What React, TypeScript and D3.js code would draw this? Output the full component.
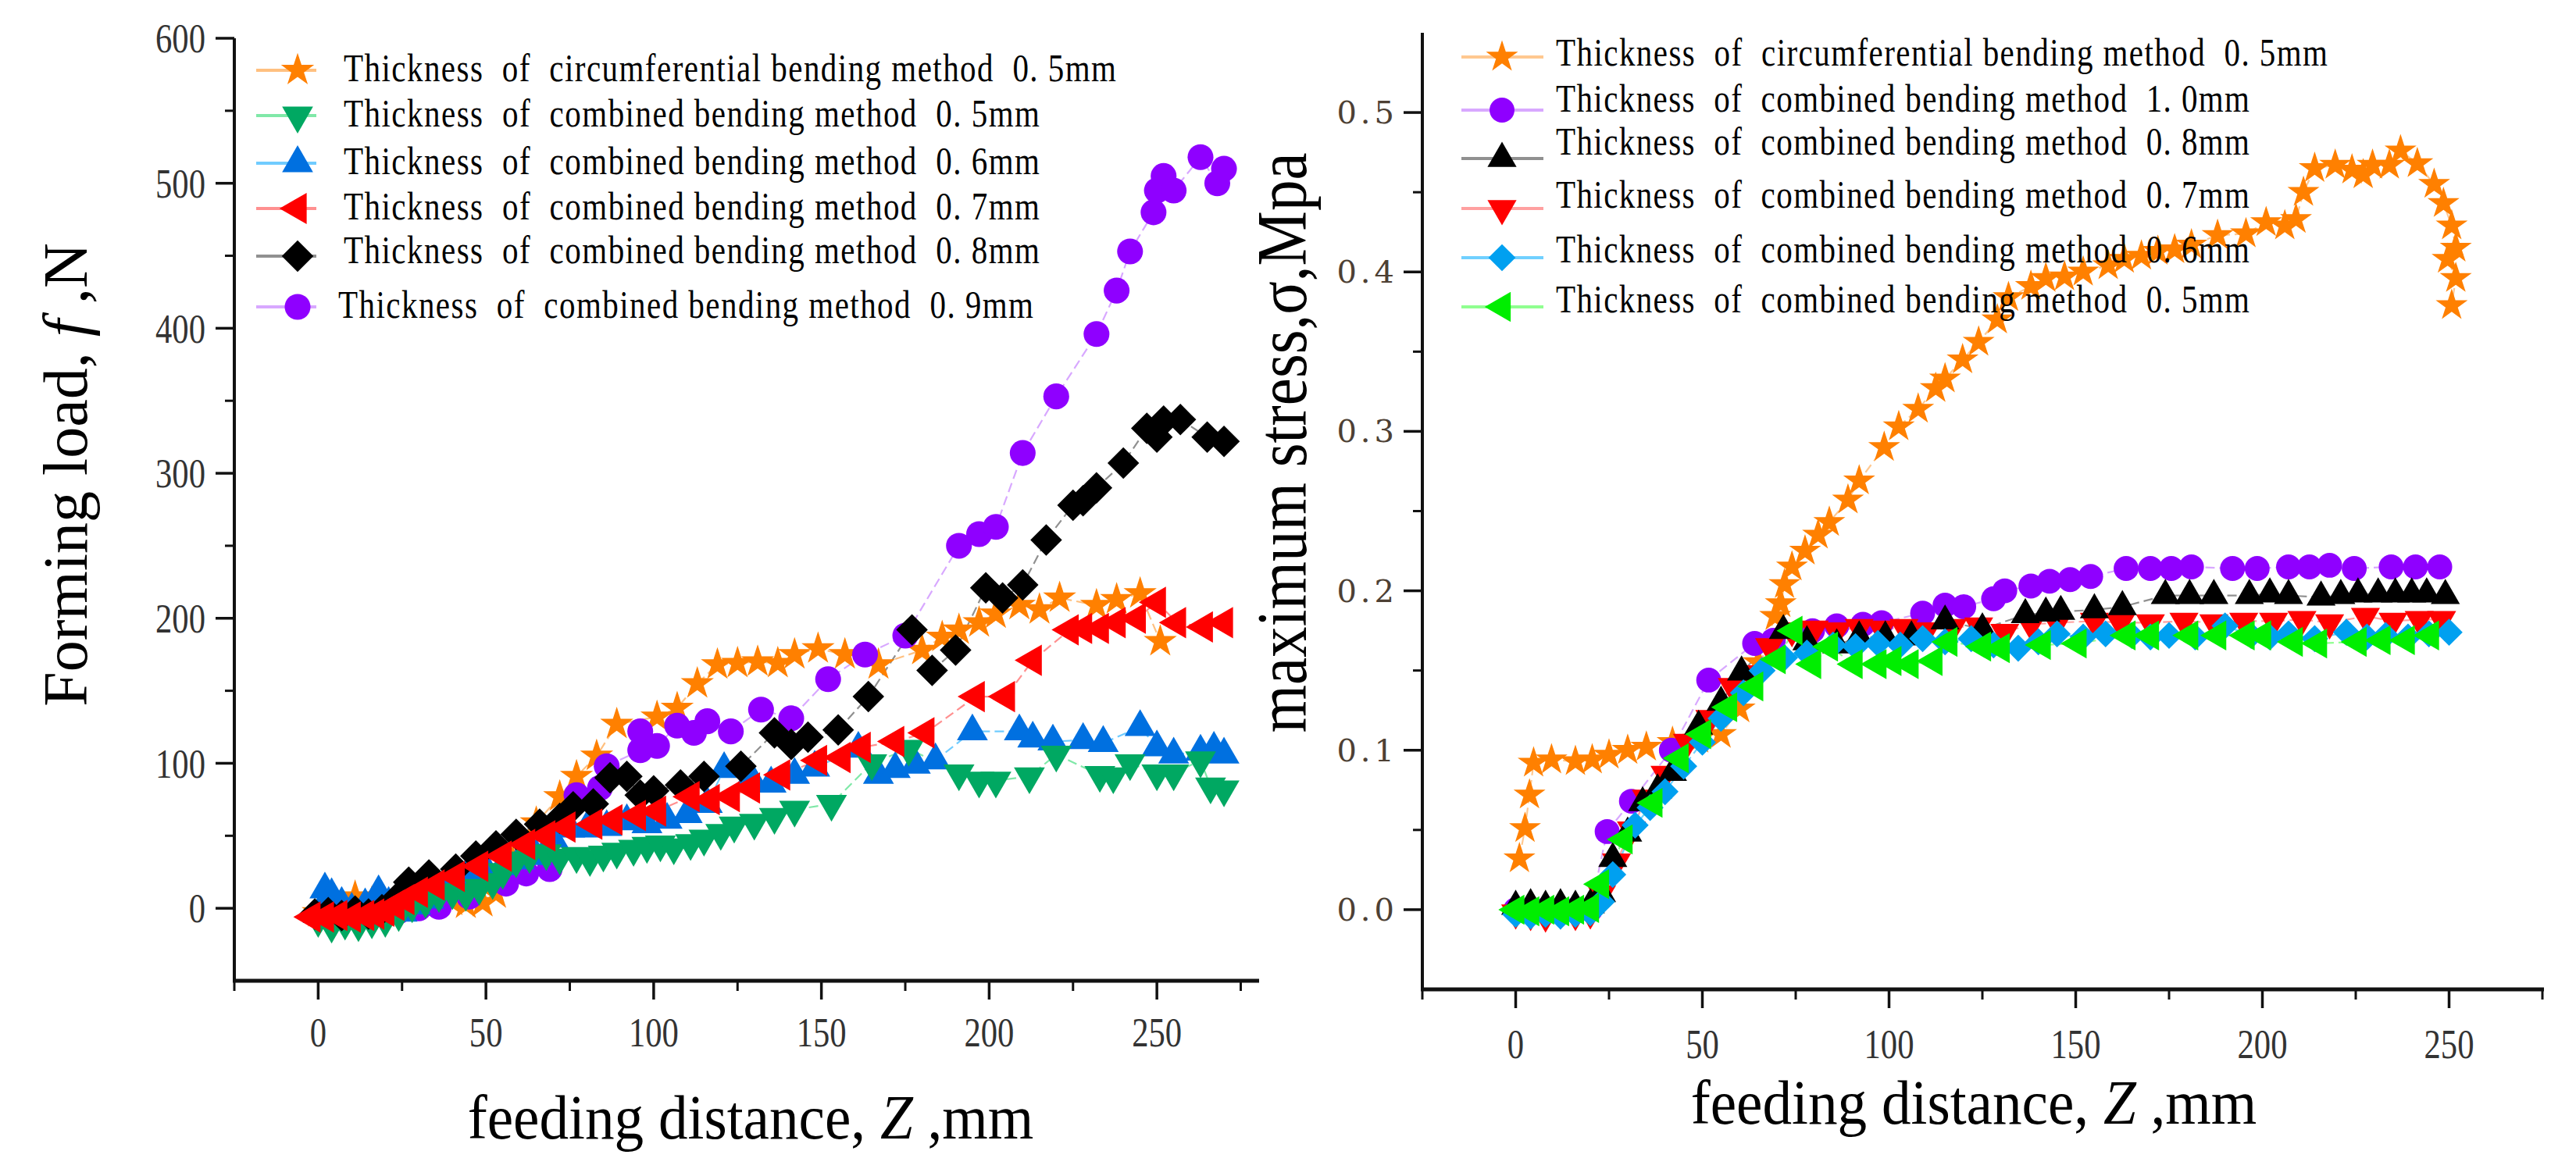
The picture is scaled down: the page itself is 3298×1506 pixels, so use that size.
import React from 'react'
import * as d3 from 'd3'

type Pt = [number, number]

// ---- left panel: forming load (N) vs feeding distance (mm)
const loadCirc05: Pt[] = [[0,-3],[5,2],[11,8],[16,4],[20,3],[24,8],[30,6],[35,4],[40,5],[44,3],[49,4],[53,10],[58,32],[65,59],[72,77],[77,91],[83,105],[89,127],[101,132],[107,138],[113,155],[119,168],[125,169],[131,170],[137,169],[142,175],[149,179],[157,175],[167,168],[180,178],[186,187],[191,192],[197,197],[202,203],[209,209],[215,206],[221,214],[232,209],[238,213],[245,217],[251,184]]
const loadComb09: Pt[] = [[0,-5],[8,-6],[16,-4],[24,-2],[30,0],[36,1],[45,8],[56,17],[62,24],[69,27],[77,78],[84,83],[86,98],[96,109],[96,122],[101,112],[107,126],[112,121],[116,129],[123,122],[132,137],[141,131],[152,158],[163,175],[175,188],[191,250],[197,258],[202,263],[210,314],[220,353],[232,396],[238,426],[242,453],[249,480],[250,495],[252,505],[255,495],[263,518],[268,500],[270,510]]
const loadComb06: Pt[] = [[0,-4],[2,13],[4,9],[7,3],[10,-1],[14,2],[18,11],[21,3],[25,-3],[29,2],[33,6],[37,14],[41,22],[45,26],[50,27],[55,29],[60,33],[65,36],[70,48],[75,55],[80,55],[86,56],[92,60],[98,58],[104,61],[110,65],[116,72],[121,96],[129,90],[135,86],[142,92],[148,97],[161,110],[167,92],[172,96],[178,99],[184,102],[195,122],[209,122],[213,117],[219,115],[228,116],[234,114],[245,125],[250,111],[255,106],[263,108],[267,110],[270,106]]
const loadComb05: Pt[] = [[0,-8],[4,-12],[8,-10],[12,-11],[16,-9],[20,-8],[24,-4],[28,2],[32,5],[36,9],[40,11],[44,10],[48,14],[52,18],[55,25],[59,33],[63,36],[68,38],[72,35],[77,36],[81,34],[85,37],[89,39],[94,41],[98,43],[102,44],[106,42],[111,45],[115,48],[120,52],[124,57],[130,59],[136,63],[142,68],[153,72],[165,100],[176,110],[191,93],[197,88],[202,88],[212,91],[220,106],[233,92],[237,91],[242,100],[250,93],[255,93],[263,102],[266,84],[270,82]]
const loadComb08: Pt[] = [[-1,-4],[3,-3],[7,-5],[11,-2],[15,-4],[19,-1],[23,6],[27,18],[33,23],[41,27],[47,36],[53,43],[59,51],[66,58],[72,62],[76,70],[82,72],[87,90],[92,91],[96,78],[100,81],[108,85],[115,91],[126,98],[136,121],[141,113],[146,118],[155,123],[164,146],[177,192],[183,164],[190,178],[199,221],[204,214],[210,223],[217,254],[225,278],[228,281],[232,290],[240,307],[247,331],[250,325],[252,336],[257,337],[265,325],[270,322]]
const loadComb07: Pt[] = [[-2,-6],[2,-6],[6,-5],[10,-6],[14,-5],[17,-4],[20,-2],[23,2],[26,6],[30,11],[35,16],[41,22],[48,29],[55,36],[62,44],[68,50],[74,56],[82,58],[88,61],[95,64],[101,67],[111,77],[117,75],[123,77],[129,83],[138,92],[149,102],[156,104],[162,111],[172,115],[181,121],[196,146],[205,146],[213,171],[224,192],[228,193],[233,193],[238,197],[244,200],[250,211],[256,197],[264,194],[270,197]]

// ---- right panel: maximum stress (MPa) vs feeding distance (mm)
const stressCirc05: Pt[] = [[1,0.032],[2.5,0.051],[3.7,0.072],[4.8,0.092],[9.6,0.094],[16,0.093],[20.5,0.094],[25,0.097],[30,0.1],[35,0.102],[42,0.105],[49,0.107],[55,0.11],[60,0.126],[65,0.155],[69.5,0.184],[71,0.192],[72,0.204],[74,0.215],[77.5,0.225],[81,0.235],[84,0.243],[89,0.257],[92,0.269],[98.7,0.29],[102.6,0.303],[107.8,0.314],[112.5,0.327],[115,0.333],[119.7,0.345],[124,0.356],[129,0.37],[132,0.384],[138,0.391],[142,0.396],[147,0.397],[152,0.4],[158.7,0.404],[163,0.408],[167.6,0.41],[172,0.413],[176.5,0.414],[181,0.417],[188,0.423],[195.6,0.424],[201,0.431],[206,0.429],[209,0.433],[211,0.45],[214,0.465],[219.5,0.467],[224,0.464],[227,0.461],[229.5,0.467],[234,0.467],[237,0.476],[241.5,0.468],[246,0.455],[248.5,0.443],[250.7,0.429],[251.8,0.415],[249.6,0.408],[251.8,0.396],[250.7,0.379]]
const stressComb10: Pt[] = [[0,0],[4,0],[8,0],[12,0],[16,0],[20,0],[24.5,0.049],[31,0.068],[41.7,0.1],[51.7,0.144],[64,0.167],[69,0.169],[79.5,0.175],[86,0.178],[93,0.179],[98,0.18],[109,0.186],[115,0.191],[120,0.19],[128,0.195],[131,0.2],[138,0.203],[143,0.206],[148.5,0.207],[154,0.209],[163.5,0.214],[170,0.214],[175.6,0.214],[181,0.215],[192,0.214],[198.6,0.214],[207,0.215],[212.6,0.215],[218,0.216],[224.6,0.214],[234.5,0.215],[241,0.215],[247.5,0.215]]
const stressComb07: Pt[] = [[0,-0.002],[4,-0.003],[8,-0.004],[12,-0.002],[16,-0.003],[20,-0.002],[23,0.01],[27,0.03],[31,0.05],[35,0.07],[40,0.085],[46,0.105],[52,0.12],[58,0.14],[63,0.148],[68,0.165],[74,0.175],[80,0.176],[86,0.175],[92,0.177],[98,0.176],[104,0.177],[110,0.175],[117,0.177],[124,0.178],[131,0.174],[138,0.179],[145,0.18],[155,0.181],[162,0.18],[170,0.18],[179,0.181],[187,0.18],[195,0.181],[203,0.181],[210.6,0.182],[218,0.18],[227.6,0.184],[235,0.181],[242,0.182],[248,0.182]]
const stressComb08: Pt[] = [[0,0.002],[4,0.003],[8,0.002],[12,0.003],[16,0.002],[20,0.003],[23,0.01],[26,0.032],[30,0.048],[34,0.067],[38,0.075],[42,0.086],[49,0.115],[55,0.13],[60.5,0.149],[71.7,0.175],[78,0.168],[86,0.166],[92,0.171],[99,0.171],[106,0.171],[115,0.181],[125,0.176],[136.5,0.185],[142,0.186],[146,0.187],[155,0.188],[162.5,0.19],[174,0.197],[180.5,0.197],[187,0.197],[196.5,0.197],[202,0.198],[207,0.197],[215.7,0.196],[221,0.197],[225.6,0.198],[231,0.198],[235.6,0.198],[240,0.198],[244,0.198],[249,0.197]]
const stressComb06: Pt[] = [[0,-0.003],[4,-0.004],[8,-0.003],[12,-0.004],[16,-0.003],[20,-0.002],[23,0.005],[26,0.022],[32,0.053],[36,0.064],[40,0.074],[45,0.09],[50,0.105],[55,0.12],[61,0.136],[66,0.15],[72,0.158],[78,0.161],[85,0.166],[91,0.165],[97,0.167],[103,0.166],[109,0.17],[115,0.168],[122,0.17],[128,0.166],[134.6,0.164],[140,0.168],[145,0.173],[152,0.171],[158,0.173],[165,0.172],[170,0.171],[175,0.172],[182,0.171],[190,0.178],[197,0.172],[202,0.171],[207,0.173],[214,0.17],[222.5,0.174],[228,0.171],[233,0.172],[239,0.171],[244.6,0.173],[250,0.174]]
const stressComb05: Pt[] = [[0,0],[4,-0.001],[8,0],[12,-0.001],[16,0],[20,0.001],[22.7,0.016],[29,0.044],[37,0.067],[44,0.095],[50,0.11],[57,0.127],[64,0.14],[70,0.157],[74.5,0.175],[79.5,0.154],[84,0.165],[90.6,0.154],[97,0.154],[101,0.156],[105.6,0.154],[112,0.156],[116,0.168],[125,0.165],[130,0.164],[141,0.166],[150.6,0.167],[163.7,0.172],[170,0.172],[180.5,0.172],[188,0.172],[195.6,0.172],[200,0.172],[208.5,0.168],[215,0.167],[225.6,0.168],[232,0.169],[238.5,0.169],[245,0.172]]

const loadTicks = [0, 100, 200, 300, 400, 500, 600]
const loadMinorTicks = [50, 150, 250, 350, 450, 550]
const stressTicks = [0, 0.1, 0.2, 0.3, 0.4, 0.5]
const stressMinorTicks = [0.05, 0.15, 0.25, 0.35, 0.45]
const distTicks = [0, 50, 100, 150, 200, 250]
const distMinorTicks = [-25, 25, 75, 125, 175, 225, 275]

const loadLegend = [
  'Thickness  of  circumferential bending method  0. 5mm',
  'Thickness  of  combined bending method  0. 5mm',
  'Thickness  of  combined bending method  0. 6mm',
  'Thickness  of  combined bending method  0. 7mm',
  'Thickness  of  combined bending method  0. 8mm',
  'Thickness  of  combined bending method  0. 9mm',
]
const stressLegend = [
  'Thickness  of  circumferential bending method  0. 5mm',
  'Thickness  of  combined bending method  1. 0mm',
  'Thickness  of  combined bending method  0. 8mm',
  'Thickness  of  combined bending method  0. 7mm',
  'Thickness  of  combined bending method  0. 6mm',
  'Thickness  of  combined bending method  0. 5mm',
]

type Shape = 'star' | 'circle' | 'up' | 'down' | 'left' | 'diamond'

interface Series {
  data: Pt[]
  shape: Shape
  fill: string
  line: string
  size: number
}

const SERIF = "'Liberation Serif', 'Times New Roman', serif"
const NARROW = 0.82 // horizontal squeeze used for the condensed serif labels

function symbolPath(shape: Shape, size: number): string {
  const type =
    shape === 'star' ? d3.symbolStar :
    shape === 'circle' ? d3.symbolCircle :
    shape === 'diamond' ? d3.symbolSquare : d3.symbolTriangle
  return d3.symbol().type(type).size(size)() || ''
}

function rotation(shape: Shape) {
  if (shape === 'down') return 180
  if (shape === 'left') return -90
  if (shape === 'diamond') return 45
  return 0
}

const Marker: React.FC<{ x: number; y: number; s: Series }> = ({ x, y, s }) => (
  <path
    d={symbolPath(s.shape, s.size)}
    transform={`translate(${x},${y}) rotate(${rotation(s.shape)})`}
    fill={s.fill}
  />
)

interface PanelProps {
  x: d3.ScaleLinear<number, number>
  y: d3.ScaleLinear<number, number>
  series: Series[] // drawing order
  yTicks: number[]
  yMinor: number[]
  yFormat: (v: number) => string
  yTickStyle: React.SVGProps<SVGTextElement>
  yTickSqueeze: number
  yLabelX: number
  tickLabelBaseline: number
  xLabel: { cx: number; y: number }
  yLabel: { text: React.ReactNode; x: number; cy: number; len?: number; size: number }
  legend: { series: Series[]; labels: string[]; markerY: number[]; textY: number[]; lineX: [number, number]; markerX: number; textX: number[]; textLen: number[] }
}

const Panel: React.FC<PanelProps> = (p) => {
  const [x0, x1] = p.x.range()
  const [yb, yt] = p.y.range()
  const line = d3.line<Pt>().x(d => p.x(d[0])).y(d => p.y(d[1]))
  return (
    <g>
      {/* connecting lines then markers */}
      {p.series.map((s, i) => (
        <path key={'l' + i} d={line(s.data) || ''} fill="none" stroke={s.line} strokeWidth={2.2} strokeDasharray="12 6" />
      ))}
      {p.series.map((s, i) => (
        <g key={'m' + i}>
          {s.data.map((d, j) => <Marker key={j} x={p.x(d[0])} y={p.y(d[1])} s={s} />)}
        </g>
      ))}

      {/* axes */}
      <line x1={x0} x2={x0} y1={yt} y2={yb + 2} stroke="#111" strokeWidth={4} />
      <line x1={x0 - 2} x2={x1 + 2} y1={yb} y2={yb} stroke="#111" strokeWidth={5} />
      {p.yTicks.map(t => (
        <g key={'yt' + t}>
          <line x1={x0 - 24} x2={x0} y1={p.y(t)} y2={p.y(t)} stroke="#111" strokeWidth={3.5} />
          <g transform={`translate(${p.yLabelX},${p.y(t)}) scale(${p.yTickSqueeze},1)`}>
            <text x={0} y={0} dy="0.35em" textAnchor="end" {...p.yTickStyle}>{p.yFormat(t)}</text>
          </g>
        </g>
      ))}
      {p.yMinor.map(t => (
        <line key={'ym' + t} x1={x0 - 12} x2={x0} y1={p.y(t)} y2={p.y(t)} stroke="#111" strokeWidth={3} />
      ))}
      {distTicks.map(t => (
        <g key={'xt' + t}>
          <line x1={p.x(t)} x2={p.x(t)} y1={yb} y2={yb + 24} stroke="#111" strokeWidth={3.5} />
          <g transform={`translate(${p.x(t)},${p.tickLabelBaseline}) scale(${NARROW},1)`}>
            <text x={0} y={0} textAnchor="middle" fontFamily={SERIF} fontSize={52} fill="#333">{t}</text>
          </g>
        </g>
      ))}
      {distMinorTicks.filter(t => p.x(t) >= x0 - 1 && p.x(t) <= x1 + 1).map(t => (
        <line key={'xm' + t} x1={p.x(t)} x2={p.x(t)} y1={yb} y2={yb + 13} stroke="#111" strokeWidth={3} />
      ))}

      {/* axis titles */}
      <g transform={`translate(${p.xLabel.cx},${p.xLabel.y}) scale(0.94,1)`}>
        <text x={0} y={0} textAnchor="middle" fontFamily={SERIF} fontSize={80} fill="#000">
          feeding distance, <tspan fontStyle="italic">Z</tspan> ,mm
        </text>
      </g>
      <text transform={`translate(${p.yLabel.x},${p.yLabel.cy}) rotate(-90)`} textAnchor="middle" fontFamily={SERIF}
        fontSize={p.yLabel.size} textLength={p.yLabel.len} lengthAdjust={p.yLabel.len ? 'spacingAndGlyphs' : undefined} fill="#000">
        {p.yLabel.text}
      </text>

      {/* legend */}
      {p.legend.series.map((s, i) => (
        <g key={'lg' + i}>
          <line x1={p.legend.lineX[0]} x2={p.legend.lineX[1]} y1={p.legend.markerY[i]} y2={p.legend.markerY[i]} stroke={s.line} strokeWidth={4} />
          <Marker x={p.legend.markerX} y={p.legend.markerY[i]} s={s} />
          <g transform={`translate(${p.legend.textX[i]},${p.legend.textY[i]}) scale(${NARROW},1)`}>
            <text x={0} y={0} fontFamily={SERIF} fontSize={50} fill="#000"
              textLength={p.legend.textLen[i] / NARROW} lengthAdjust="spacing" style={{ whiteSpace: 'pre' }}>
              {p.legend.labels[i]}
            </text>
          </g>
        </g>
      ))}
    </g>
  )
}

export default function App() {
  // left panel scales
  const xL = d3.scaleLinear().domain([-25, 280]).range([300, 1610])
  const yL = d3.scaleLinear().domain([-50, 600]).range([1256, 49])
  // right panel scales
  const xR = d3.scaleLinear().domain([-25, 275]).range([1821, 3255])
  const yR = d3.scaleLinear().domain([-0.05, 0.55]).range([1267, 42])

  const lCirc: Series = { data: loadCirc05, shape: 'star', fill: '#FF8000', line: '#FFC080', size: 560 }
  const l05: Series = { data: loadComb05, shape: 'down', fill: '#00A862', line: '#80E8A8', size: 680 }
  const l06: Series = { data: loadComb06, shape: 'up', fill: '#0070E0', line: '#70CCFF', size: 680 }
  const l07: Series = { data: loadComb07, shape: 'left', fill: '#FF0000', line: '#FF9090', size: 700 }
  const l08: Series = { data: loadComb08, shape: 'diamond', fill: '#000000', line: '#909090', size: 820 }
  const l09: Series = { data: loadComb09, shape: 'circle', fill: '#8F00FF', line: '#D8A8FF', size: 860 }

  const rCirc: Series = { data: stressCirc05, shape: 'star', fill: '#FF8000', line: '#FFC890', size: 520 }
  const r10: Series = { data: stressComb10, shape: 'circle', fill: '#8F00FF', line: '#D8A8FF', size: 800 }
  const r08: Series = { data: stressComb08, shape: 'up', fill: '#000000', line: '#909090', size: 600 }
  const r07: Series = { data: stressComb07, shape: 'down', fill: '#FF0000', line: '#FFA0A0', size: 600 }
  const r06: Series = { data: stressComb06, shape: 'diamond', fill: '#00A0F0', line: '#70D0FF', size: 600 }
  const r05: Series = { data: stressComb05, shape: 'left', fill: '#00EE00', line: '#90FF90', size: 640 }

  return (
    <svg width={3298} height={1506} style={{ position: 'absolute', left: 0, top: 0, background: '#fff' }}>
      <rect width={3298} height={1506} fill="#fff" />
      <Panel
        x={xL}
        y={yL}
        series={[lCirc, l09, l06, l05, l08, l07]}
        yTicks={loadTicks}
        yMinor={loadMinorTicks}
        yFormat={v => String(v)}
        yTickStyle={{ fontFamily: SERIF, fontSize: 52, fill: '#333' }}
        yTickSqueeze={NARROW}
        yLabelX={263}
        tickLabelBaseline={1340}
        xLabel={{ cx: 961, y: 1458 }}
        yLabel={{ text: <>Forming load, <tspan fontStyle="italic">f</tspan> ,N</>, x: 111, cy: 608, size: 80 }}
        legend={{
          series: [lCirc, l05, l06, l07, l08, l09],
          labels: loadLegend,
          markerY: [90, 148, 209, 267, 328, 393],
          textY: [104, 162, 223, 281, 337, 407],
          lineX: [328, 405],
          markerX: 381,
          textX: [440, 440, 440, 440, 440, 433],
          textLen: [989, 891, 891, 891, 891, 890],
        }}
      />
      <Panel
        x={xR}
        y={yR}
        series={[rCirc, r10, r07, r08, r06, r05]}
        yTicks={stressTicks}
        yMinor={stressMinorTicks}
        yFormat={v => v.toFixed(1)}
        yTickStyle={{ fontFamily: "'DejaVu Serif', serif", fontSize: 40, fill: '#4d4034', letterSpacing: 5 }}
        yTickSqueeze={1}
        yLabelX={1790}
        tickLabelBaseline={1355}
        xLabel={{ cx: 2527, y: 1439 }}
        yLabel={{ text: 'maximum stress,σ,Mpa', x: 1672, cy: 567, len: 743, size: 90 }}
        legend={{
          series: [rCirc, r10, r08, r07, r06, r05],
          labels: stressLegend,
          markerY: [73, 141, 203, 267, 330, 393],
          textY: [84, 143, 198, 266, 336, 400],
          lineX: [1871, 1976],
          markerX: 1923,
          textX: [1992, 1992, 1992, 1992, 1992, 1992],
          textLen: [988, 888, 888, 888, 888, 888],
        }}
      />
    </svg>
  )
}
